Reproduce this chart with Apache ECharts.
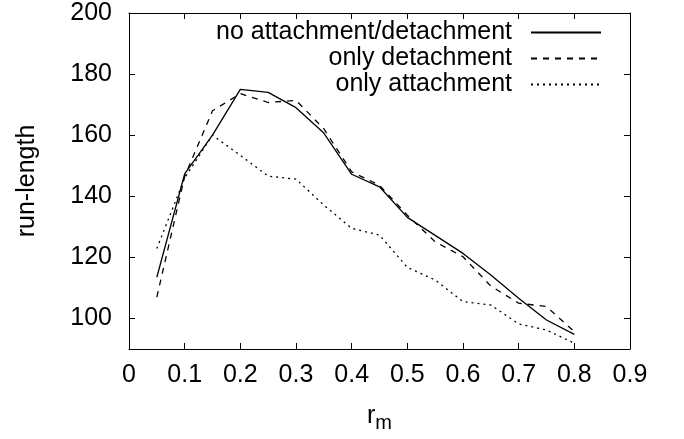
<!DOCTYPE html>
<html>
<head>
<meta charset="utf-8">
<script src="https://cdn.jsdelivr.net/npm/echarts@6/dist/echarts.min.js"></script>
<style>
  html, body { margin: 0; padding: 0; background: #fff; }
  #chart { width: 684px; height: 439px; }
</style>
</head>
<body>
<div id="chart"></div>
<script>
// r_m sample points
const rm = [0.05, 0.1, 0.15, 0.2, 0.25, 0.3, 0.35, 0.4, 0.45, 0.5, 0.55, 0.6, 0.65, 0.7, 0.75, 0.8];

// run-length per scenario
const noAttachDetach = [113.5, 147.3, 160, 175, 174, 169, 160.7, 147.2, 143.1, 133.1, 127.2, 121.3, 114.2, 106.6, 99.5, 94.8];
const onlyDetach     = [107, 146.5, 168, 173.6, 170.7, 171.4, 162.1, 148, 143.6, 133.8, 125.1, 120.2, 110.6, 105, 103.9, 95.7];
const onlyAttach     = [122.9, 146, 160, 153.4, 146.6, 145.6, 137.1, 129.5, 127.3, 116.7, 112.6, 105.5, 104.4, 98.2, 96.2, 91.9];

const seriesNames = ['no attachment/detachment', 'only detachment', 'only attachment'];

// tick positions
const xTicks = [0, 0.1, 0.2, 0.3, 0.4, 0.5, 0.6, 0.7, 0.8, 0.9];
const yTicks = [100, 120, 140, 160, 180, 200];

const FONT = '"Liberation Sans", Arial, Helvetica, sans-serif';
const FS = 25;

function pairs(ys) { return rm.map((x, i) => [x, ys[i]]); }

const xBase = { type: 'value', min: 0, max: 0.9, splitLine: { show: false },
  axisLine: { show: true, onZero: false, lineStyle: { color: '#000', width: 1 } },
  axisTick: { show: true, inside: true, length: 6, customValues: xTicks, lineStyle: { color: '#000' } } };
const yBase = { type: 'value', min: 90, max: 200, splitLine: { show: false },
  axisLine: { show: true, onZero: false, lineStyle: { color: '#000', width: 1 } },
  axisTick: { show: true, inside: true, length: 6, customValues: yTicks, lineStyle: { color: '#000' } } };

const chart = echarts.init(document.getElementById('chart'), null, { renderer: 'canvas' });
chart.setOption({
  animation: false,
  backgroundColor: '#fff',
  textStyle: { fontFamily: FONT, color: '#000' },
  grid: { left: 129, right: 54, top: 13, bottom: 90, containLabel: false },
  legend: {
    orient: 'vertical', align: 'right', right: 77, top: 15,
    itemWidth: 70, itemHeight: 14, itemGap: 1,
    itemStyle: { opacity: 0, color: 'rgba(0,0,0,0)', borderWidth: 0 },
    textStyle: { fontFamily: FONT, fontSize: FS, color: '#000', lineHeight: 25, padding: [0, 14, 0, 0] },
    data: seriesNames
  },
  xAxis: [
    Object.assign({}, xBase, {
      position: 'bottom',
      name: '{r|r}{m|m}', nameLocation: 'middle', nameGap: 55,
      nameTextStyle: { rich: {
        r: { fontFamily: FONT, fontSize: FS, color: '#000', verticalAlign: 'top', lineHeight: 25 },
        m: { fontFamily: FONT, fontSize: 20, color: '#000', verticalAlign: 'middle', lineHeight: 38 }
      } },
      axisLabel: { show: true, margin: 14, fontFamily: FONT, fontSize: FS, color: '#000', customValues: xTicks,
        formatter: v => (v === 0 ? '0' : v.toFixed(1)) }
    }),
    Object.assign({}, xBase, { position: 'top', axisLabel: { show: false } })
  ],
  yAxis: [
    Object.assign({}, yBase, {
      position: 'left',
      name: 'run-length', nameLocation: 'middle', nameGap: 89, nameRotate: 90,
      nameTextStyle: { fontFamily: FONT, fontSize: FS, color: '#000' },
      axisLabel: { show: true, margin: 17, fontFamily: FONT, fontSize: FS, color: '#000', customValues: yTicks }
    }),
    Object.assign({}, yBase, { position: 'right', axisLabel: { show: false } })
  ],
  series: [
    { name: seriesNames[0], type: 'line', data: pairs(noAttachDetach), symbol: 'none',
      lineStyle: { color: '#000', width: 1.3, type: 'solid' }, itemStyle: { color: '#000' } },
    { name: seriesNames[1], type: 'line', data: pairs(onlyDetach), symbol: 'none',
      lineStyle: { color: '#000', width: 1.3, type: [6, 6] }, itemStyle: { color: '#000' } },
    { name: seriesNames[2], type: 'line', data: pairs(onlyAttach), symbol: 'none',
      lineStyle: { color: '#000', width: 1.3, type: [2, 4] }, itemStyle: { color: '#000' } }
  ]
});
</script>
</body>
</html>
